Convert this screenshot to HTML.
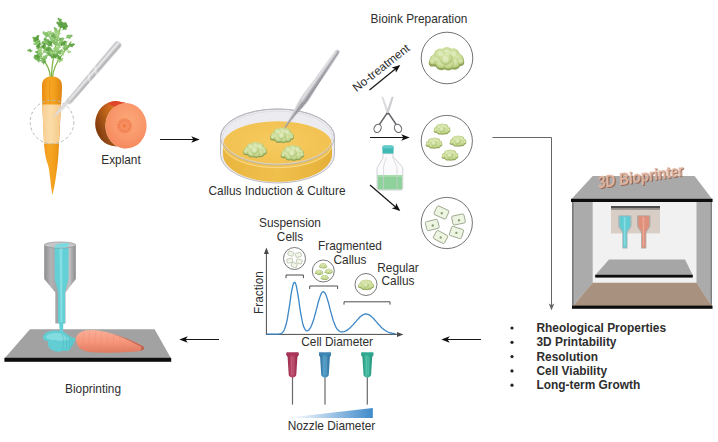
<!DOCTYPE html>
<html>
<head>
<meta charset="utf-8">
<title>Graphical abstract</title>
<style>
html,body{margin:0;padding:0;background:#ffffff;}
body{width:718px;height:442px;overflow:hidden;font-family:"Liberation Sans",sans-serif;}
svg{display:block;filter:blur(0.38px);}
text{font-family:"Liberation Sans",sans-serif;fill:#2e2e2e;}
</style>
</head>
<body>
<svg width="718" height="442" viewBox="0 0 718 442">
<defs>
  <marker id="ah" viewBox="0 0 10 10" refX="8" refY="5" markerWidth="7" markerHeight="7" orient="auto-start-reverse">
    <path d="M0,1 L10,5 L0,9 L2.5,5 Z" fill="#111"/>
  </marker>
  <marker id="ahg" viewBox="0 0 10 10" refX="8" refY="5" markerWidth="7" markerHeight="7" orient="auto-start-reverse">
    <path d="M0,1 L10,5 L0,9 L2.5,5 Z" fill="#666"/>
  </marker>
  <filter id="soft" x="-10%" y="-10%" width="120%" height="120%"><feGaussianBlur stdDeviation="0.45"/></filter>
  <filter id="soft2" x="-10%" y="-10%" width="120%" height="120%"><feGaussianBlur stdDeviation="0.8"/></filter>
  <linearGradient id="gCarrot" x1="0" x2="1" y1="0" y2="0">
    <stop offset="0" stop-color="#e88a12"/><stop offset="0.3" stop-color="#f6a524"/><stop offset="0.6" stop-color="#f3a11e"/><stop offset="1" stop-color="#dd8410"/>
  </linearGradient>
  <linearGradient id="gPale" x1="0" x2="1" y1="0" y2="0">
    <stop offset="0" stop-color="#f7cf94"/><stop offset="0.45" stop-color="#fbdca8"/><stop offset="1" stop-color="#f5c888"/>
  </linearGradient>
  <linearGradient id="gSteel" x1="0" x2="1" y1="0" y2="0">
    <stop offset="0" stop-color="#b0b0b2"/><stop offset="0.4" stop-color="#dcdcde"/><stop offset="1" stop-color="#a2a2a4"/>
  </linearGradient>
  <linearGradient id="gSide" x1="0" x2="0" y1="0" y2="1">
    <stop offset="0" stop-color="#d65a1c"/><stop offset="0.25" stop-color="#c46616"/><stop offset="0.55" stop-color="#9a4a10"/><stop offset="1" stop-color="#6e2a0a"/>
  </linearGradient>
  <radialGradient id="gFace" cx="0.55" cy="0.4" r="0.65">
    <stop offset="0" stop-color="#fba878"/><stop offset="0.6" stop-color="#f9976a"/><stop offset="1" stop-color="#f4875a"/>
  </radialGradient>
  <linearGradient id="gMedSide" x1="0" x2="1" y1="0" y2="0">
    <stop offset="0" stop-color="#e9b63e"/><stop offset="0.5" stop-color="#f0c04c"/><stop offset="1" stop-color="#e5b038"/>
  </linearGradient>
  <radialGradient id="gMedTop" cx="0.5" cy="0.45" r="0.6">
    <stop offset="0" stop-color="#f6cb60"/><stop offset="1" stop-color="#f1c04e"/>
  </radialGradient>
  <linearGradient id="gForceps" x1="0" x2="1" y1="0" y2="0">
    <stop offset="0" stop-color="#bcbcc2"/><stop offset="0.35" stop-color="#d6d6da"/><stop offset="0.6" stop-color="#a6a6ac"/><stop offset="1" stop-color="#84848c"/>
  </linearGradient>
  <radialGradient id="gCallus" cx="0.5" cy="0.4" r="0.6">
    <stop offset="0" stop-color="#e6f0c8"/><stop offset="0.6" stop-color="#cbdea4"/><stop offset="1" stop-color="#a6c078"/>
  </radialGradient>
  <radialGradient id="gLump" cx="0.45" cy="0.4" r="0.62">
    <stop offset="0" stop-color="#dfeab8"/><stop offset="0.65" stop-color="#c6d992"/><stop offset="1" stop-color="#a9c070"/>
  </radialGradient>
  <symbol id="callus" viewBox="-12 -8 24 16" overflow="visible">
    <g fill="#8fa257"><circle cx="-7.2" cy="1.7" r="4.0"/><circle cx="-4.2" cy="-1.5" r="4.2"/><circle cx="0.2" cy="-2.5" r="4.3"/><circle cx="4.6" cy="-1.7" r="4.2"/><circle cx="7.6" cy="1.3" r="3.9"/><circle cx="5.4" cy="3.8" r="4.0"/><circle cx="1.2" cy="4.3" r="4.1"/><circle cx="-3.4" cy="4.1" r="4.0"/><circle cx="-0.4" cy="1.1" r="4.8"/><circle cx="-9.2" cy="3.1" r="2.6"/><circle cx="9.4" cy="2.9" r="2.4"/></g>
    <g><circle cx="-7.2" cy="0.8" r="3.6" fill="url(#gLump)"/><circle cx="-4.2" cy="-2.4" r="3.9" fill="url(#gLump)"/><circle cx="0.2" cy="-3.4" r="4.0" fill="url(#gLump)"/><circle cx="4.6" cy="-2.6" r="3.9" fill="url(#gLump)"/><circle cx="7.6" cy="0.4" r="3.5" fill="url(#gLump)"/><circle cx="5.4" cy="2.9" r="3.6" fill="url(#gLump)"/><circle cx="1.2" cy="3.4" r="3.8" fill="url(#gLump)"/><circle cx="-3.4" cy="3.2" r="3.7" fill="url(#gLump)"/><circle cx="-0.4" cy="0.2" r="4.4" fill="url(#gLump)"/><circle cx="-9.2" cy="2.2" r="2.2" fill="url(#gLump)"/><circle cx="9.4" cy="2.0" r="2.0" fill="url(#gLump)"/></g>
    <g fill="#eef5d4" opacity="0.45"><circle cx="-3.6" cy="-2.8" r="1.7"/><circle cx="1.0" cy="-3.6" r="1.8"/><circle cx="5.0" cy="-2.4" r="1.5"/><circle cx="-0.6" cy="1.0" r="1.9"/><circle cx="-6.8" cy="0.6" r="1.3"/></g>
  </symbol>
  <linearGradient id="gWedge" x1="0" x2="1" y1="0" y2="0">
    <stop offset="0" stop-color="#ffffff"/><stop offset="0.25" stop-color="#d9e8f5"/><stop offset="1" stop-color="#3f8acb"/>
  </linearGradient>
  <linearGradient id="gNozzle" x1="0" x2="1" y1="0" y2="0">
    <stop offset="0" stop-color="#8c8c8e"/><stop offset="0.2" stop-color="#b2b2b4"/><stop offset="0.45" stop-color="#a2a2a4"/><stop offset="0.8" stop-color="#c2c2c4"/><stop offset="1" stop-color="#8a8a8c"/>
  </linearGradient>
  <linearGradient id="gPCarrot" x1="0" x2="0" y1="0" y2="1">
    <stop offset="0" stop-color="#fbb09a"/><stop offset="0.55" stop-color="#f59478"/><stop offset="1" stop-color="#dd7a60"/>
  </linearGradient>
  <linearGradient id="gHubR" x1="0" x2="1" y1="0" y2="0"><stop offset="0" stop-color="#8c2342"/><stop offset="0.45" stop-color="#c04a6a"/><stop offset="1" stop-color="#8c2342"/></linearGradient>
  <linearGradient id="gHubB" x1="0" x2="1" y1="0" y2="0"><stop offset="0" stop-color="#2a6a96"/><stop offset="0.45" stop-color="#4f9cc8"/><stop offset="1" stop-color="#2a6a96"/></linearGradient>
  <linearGradient id="gHubG" x1="0" x2="1" y1="0" y2="0"><stop offset="0" stop-color="#1f8a74"/><stop offset="0.45" stop-color="#45bfa4"/><stop offset="1" stop-color="#1f8a74"/></linearGradient>
  <linearGradient id="gSideH" gradientUnits="userSpaceOnUse" x1="95" x2="112" y1="0" y2="0">
    <stop offset="0" stop-color="#5a2006" stop-opacity="0.45"/><stop offset="1" stop-color="#e08a30" stop-opacity="0.35"/>
  </linearGradient>
  <!-- SECTION: gradients -->
</defs>
<rect x="0" y="0" width="718" height="442" fill="#ffffff"/>

<!-- SECTION: arrows -->
<g stroke="#161616" stroke-width="1.2" fill="none">
  <line x1="160" y1="139.5" x2="198" y2="139.5" marker-end="url(#ah)"/>
  <line x1="369.5" y1="90" x2="399" y2="66" marker-end="url(#ah)"/>
  <line x1="370" y1="137.5" x2="408" y2="137.5" marker-end="url(#ah)"/>
  <line x1="370" y1="185" x2="399" y2="210" marker-end="url(#ah)"/>
  <line x1="481" y1="339.5" x2="443" y2="339.5" marker-end="url(#ah)"/>
  <line x1="219" y1="339.5" x2="181" y2="339.5" marker-end="url(#ah)"/>
</g>
<path d="M492.5,137.5 H551.5 V309" stroke="#666" stroke-width="1" fill="none" marker-end="url(#ahg)"/>

<!-- SECTION: labels -->
<g font-size="11.85">
  <text x="121" y="164" text-anchor="middle">Explant</text>
  <text x="277" y="195" text-anchor="middle">Callus Induction &amp; Culture</text>
  <text x="419" y="23" text-anchor="middle">Bioink Preparation</text>
  <text transform="translate(356.6,92.2) rotate(-38.2)" x="0" y="0" font-size="11.8">No-treatment</text>
  <text x="93" y="393" text-anchor="middle">Bioprinting</text>
  <text x="290" y="227" text-anchor="middle">Suspension</text>
  <text x="290" y="240.5" text-anchor="middle">Cells</text>
  <text x="350" y="250" text-anchor="middle">Fragmented</text>
  <text x="350" y="263.5" text-anchor="middle">Callus</text>
  <text x="398" y="272" text-anchor="middle">Regular</text>
  <text x="398" y="285" text-anchor="middle">Callus</text>
  <text x="337.2" y="346" text-anchor="middle">Cell Diameter</text>
  <text x="331.5" y="429.5" text-anchor="middle">Nozzle Diameter</text>
  <text transform="translate(262.5,292.5) rotate(-90)" x="0" y="0" text-anchor="middle">Fraction</text>
</g>
<g font-size="11.9" font-weight="bold">
  <text x="536.5" y="332">Rheological Properties</text>
  <text x="536.5" y="346.3">3D Printability</text>
  <text x="536.5" y="360.6">Resolution</text>
  <text x="536.5" y="374.9">Cell Viability</text>
  <text x="536.5" y="389.2">Long-term Growth</text>
</g>
<g fill="#222">
  <circle cx="512" cy="328" r="1.6"/><circle cx="512" cy="342.3" r="1.6"/><circle cx="512" cy="356.6" r="1.6"/><circle cx="512" cy="370.9" r="1.6"/><circle cx="512" cy="385.2" r="1.6"/>
</g>

<!-- SECTION: carrot -->
<g filter="url(#soft)">
  <!-- leaves -->
  <g fill="none" stroke="#7cb342" stroke-width="1.2" stroke-linecap="round">
    <path d="M50.3,77 C50,70 47,64 42,58 C40,52 38,46 36,40"/>
    <path d="M51.5,77 C51.5,66 54,50 62,22"/>
    <path d="M52.6,77 C53,70 56,63 62,55 C65,50 68,46 71,42"/>
  </g>
  <g><path d="M51.0,35.1 L53.5,35.3 L55.1,34.3 L56.0,36.2 L58.2,37.7 L56.1,38.2 L55.3,39.8 L53.6,38.0 L51.1,37.0Z M50.0,54.1 L52.0,54.3 L53.3,53.4 L54.0,55.0 L55.8,56.2 L54.1,56.6 L53.4,57.8 L52.0,56.4 L50.0,55.6Z M58.4,17.4 L60.1,18.8 L61.8,18.9 L61.5,20.9 L62.3,23.1 L60.5,22.3 L59.0,23.0 L58.7,20.8 L57.4,18.8Z M72.9,36.1 L71.0,37.1 L70.2,38.6 L68.5,37.5 L66.2,37.4 L67.6,36.0 L67.5,34.5 L69.7,35.1 L72.0,34.7Z M44.0,47.3 L46.8,47.6 L48.6,46.4 L49.7,48.6 L52.1,50.3 L49.8,50.8 L48.8,52.6 L46.9,50.6 L44.1,49.5Z M68.1,26.2 L66.6,28.1 L66.6,29.9 L64.5,29.6 L62.2,30.6 L62.9,28.6 L62.1,27.1 L64.4,26.7 L66.5,25.2Z M46.7,47.3 L49.1,47.8 L50.8,47.0 L51.5,49.1 L53.4,50.8 L51.3,51.0 L50.2,52.4 L48.8,50.4 L46.5,49.2Z M49.3,32.9 L51.7,32.9 L53.2,31.9 L54.2,33.7 L56.3,35.1 L54.3,35.6 L53.6,37.2 L51.9,35.5 L49.5,34.7Z M63.6,38.6 L62.0,39.6 L61.5,41.1 L59.9,40.3 L57.9,40.4 L58.9,39.1 L58.7,37.7 L60.6,38.0 L62.6,37.4Z M46.5,51.9 L48.5,52.3 L49.9,51.6 L50.5,53.3 L52.2,54.7 L50.4,54.9 L49.5,56.1 L48.3,54.5 L46.3,53.5Z M48.0,51.0 L50.8,51.1 L52.7,49.8 L53.9,52.1 L56.5,53.8 L54.1,54.4 L53.1,56.3 L51.0,54.2 L48.1,53.2Z M44.9,37.3 L47.2,39.3 L49.5,39.4 L49.1,42.1 L50.1,45.1 L47.7,44.1 L45.7,45.0 L45.3,42.0 L43.5,39.2Z M47.1,39.3 L49.4,41.2 L51.8,41.2 L51.4,43.9 L52.6,46.9 L50.1,46.0 L48.1,47.0 L47.7,43.9 L45.8,41.3Z M48.2,53.1 L50.8,53.7 L52.7,52.9 L53.4,55.2 L55.5,57.2 L53.2,57.3 L52.0,58.9 L50.4,56.6 L47.9,55.2Z M33.5,56.5 L36.1,56.4 L37.6,55.2 L38.9,57.1 L41.4,58.4 L39.2,59.2 L38.5,60.9 L36.5,59.2 L33.8,58.6Z M35.3,51.1 L37.9,51.1 L39.5,49.9 L40.7,51.9 L43.1,53.3 L40.9,54.0 L40.2,55.7 L38.2,53.9 L35.5,53.1Z M27.2,49.8 L29.0,49.6 L30.1,48.6 L31.1,49.9 L33.0,50.8 L31.4,51.4 L31.0,52.7 L29.5,51.6 L27.5,51.2Z M45.4,58.4 L45.3,60.6 L46.3,61.9 L44.6,62.9 L43.4,64.9 L42.8,63.0 L41.4,62.3 L42.9,60.8 L43.7,58.5Z M40.4,40.6 L40.0,42.8 L40.7,44.3 L38.9,45.0 L37.3,46.8 L37.1,44.8 L35.8,43.9 L37.6,42.6 L38.7,40.4Z M57.1,57.2 L58.7,57.7 L60.0,57.3 L60.3,58.8 L61.6,60.1 L60.1,60.1 L59.2,61.1 L58.4,59.5 L56.8,58.5Z" fill="#62a646" opacity="0.92"/><path d="M45.9,40.8 L47.5,41.8 L49.0,41.6 L49.0,43.4 L50.0,45.2 L48.3,44.8 L47.2,45.6 L46.6,43.7 L45.2,42.2Z M44.7,47.5 L47.4,48.3 L49.5,47.5 L50.2,49.9 L52.3,52.1 L49.8,52.2 L48.5,53.7 L47.0,51.3 L44.4,49.7Z M44.3,33.1 L46.4,33.3 L47.8,32.4 L48.6,34.1 L50.5,35.3 L48.7,35.8 L47.9,37.1 L46.5,35.6 L44.3,34.8Z M54.6,26.7 L56.0,28.2 L57.5,28.4 L57.1,30.1 L57.6,32.2 L56.0,31.4 L54.7,31.9 L54.6,29.8 L53.6,27.9Z M47.0,48.3 L49.7,49.3 L51.9,48.6 L52.4,51.2 L54.4,53.5 L51.8,53.4 L50.4,54.9 L49.0,52.4 L46.5,50.5Z M50.4,40.3 L53.0,40.5 L54.7,39.5 L55.7,41.6 L57.9,43.3 L55.7,43.7 L54.7,45.4 L53.0,43.4 L50.4,42.3Z M63.4,50.8 L61.2,52.6 L60.7,54.7 L58.4,53.9 L55.4,54.3 L56.8,52.3 L56.3,50.3 L59.1,50.5 L61.8,49.3Z M58.1,47.6 L56.9,49.0 L56.7,50.5 L55.1,50.1 L53.1,50.8 L53.8,49.3 L53.3,48.0 L55.2,47.8 L56.9,46.8Z M32.7,36.4 L35.3,37.1 L37.2,36.2 L37.9,38.6 L39.9,40.6 L37.6,40.7 L36.3,42.2 L34.8,40.0 L32.4,38.5Z M33.1,39.8 L35.6,39.9 L37.2,38.7 L38.3,40.7 L40.6,42.1 L38.4,42.7 L37.7,44.3 L35.8,42.6 L33.3,41.7Z M46.9,57.1 L45.5,59.2 L45.5,61.1 L43.3,60.9 L40.9,62.0 L41.6,59.9 L40.7,58.4 L43.1,57.9 L45.2,56.2Z M34.9,57.6 L37.4,58.1 L39.1,57.2 L39.9,59.3 L41.9,61.0 L39.8,61.3 L38.7,62.8 L37.2,60.8 L34.8,59.5Z M48.8,47.3 L47.7,48.8 L47.7,50.3 L46.0,50.1 L44.1,51.0 L44.7,49.4 L44.0,48.2 L45.9,47.8 L47.5,46.6Z M46.3,44.8 L44.9,46.4 L44.9,48.1 L43.0,47.8 L40.8,48.5 L41.5,46.8 L40.9,45.4 L43.0,45.1 L44.9,43.8Z M46.2,41.2 L45.0,42.7 L44.9,44.2 L43.2,44.0 L41.2,44.7 L41.8,43.1 L41.2,41.9 L43.2,41.6 L44.9,40.4Z M62.8,46.9 L64.5,47.7 L65.8,47.4 L66.0,49.0 L67.2,50.5 L65.6,50.3 L64.6,51.2 L63.9,49.5 L62.4,48.3Z M70.0,46.9 L68.2,48.3 L67.8,50.1 L65.8,49.4 L63.3,49.8 L64.5,48.1 L64.0,46.4 L66.4,46.6 L68.7,45.6Z" fill="#74b356" opacity="0.92"/><path d="M67.8,41.8 L66.7,43.6 L66.8,45.2 L64.9,45.2 L62.9,46.3 L63.4,44.5 L62.5,43.2 L64.6,42.6 L66.3,41.1Z M72.2,35.9 L70.3,37.3 L69.9,39.1 L67.9,38.3 L65.4,38.6 L66.6,36.9 L66.2,35.3 L68.6,35.5 L70.9,34.6Z M59.7,50.1 L57.8,51.4 L57.2,53.1 L55.3,52.2 L52.9,52.4 L54.1,50.8 L53.8,49.2 L56.1,49.5 L58.5,48.7Z M49.9,35.7 L52.0,37.4 L54.1,37.4 L53.8,39.8 L54.9,42.4 L52.7,41.6 L50.9,42.5 L50.5,39.8 L48.8,37.5Z M64.7,38.3 L63.4,40.6 L63.7,42.7 L61.3,42.8 L58.9,44.3 L59.3,41.9 L58.2,40.4 L60.7,39.5 L62.8,37.5Z M63.6,41.7 L62.5,43.8 L62.8,45.6 L60.6,45.8 L58.5,47.2 L58.8,45.1 L57.7,43.7 L60.0,42.9 L61.8,41.0Z M68.8,46.5 L66.9,47.2 L66.0,48.6 L64.6,47.4 L62.5,47.0 L63.9,45.9 L64.0,44.5 L65.9,45.3 L68.1,45.1Z M62.2,44.3 L59.7,45.2 L58.6,46.9 L56.7,45.4 L53.9,44.9 L55.8,43.5 L55.9,41.6 L58.4,42.6 L61.3,42.4Z M42.4,40.8 L44.4,40.8 L45.7,39.9 L46.6,41.5 L48.5,42.6 L46.7,43.1 L46.1,44.5 L44.6,43.0 L42.5,42.4Z M54.0,38.6 L56.0,38.8 L57.3,38.0 L58.0,39.6 L59.8,40.9 L58.0,41.2 L57.3,42.5 L56.0,41.0 L54.0,40.2Z M43.1,31.0 L45.8,32.3 L48.1,31.8 L48.4,34.5 L50.2,37.2 L47.6,36.8 L45.9,38.2 L44.7,35.4 L42.3,33.2Z M32.8,38.8 L34.6,38.2 L35.5,37.0 L36.8,38.1 L38.8,38.6 L37.4,39.5 L37.3,40.9 L35.5,40.1 L33.4,40.2Z M33.2,43.2 L35.6,42.3 L36.6,40.7 L38.3,42.1 L41.0,42.6 L39.2,43.9 L39.1,45.7 L36.8,44.8 L34.1,44.9Z M47.9,49.7 L46.6,51.3 L46.6,53.0 L44.7,52.7 L42.7,53.6 L43.3,51.8 L42.6,50.5 L44.7,50.1 L46.5,48.8Z M48.6,55.0 L47.1,56.9 L47.1,58.7 L45.0,58.4 L42.6,59.3 L43.4,57.4 L42.6,55.9 L44.9,55.5 L47.0,54.0Z M34.0,56.1 L36.2,55.3 L37.1,53.8 L38.7,55.1 L41.1,55.5 L39.5,56.8 L39.4,58.4 L37.3,57.5 L34.8,57.7Z M35.3,55.6 L37.7,54.5 L38.6,52.7 L40.5,54.0 L43.3,54.3 L41.6,55.8 L41.6,57.7 L39.1,56.9 L36.3,57.3Z M49.5,46.4 L48.7,48.5 L49.2,50.2 L47.2,50.5 L45.4,52.0 L45.5,50.0 L44.4,48.9 L46.4,47.9 L47.9,46.0Z M58.4,54.5 L59.5,55.6 L60.6,55.8 L60.2,57.1 L60.6,58.7 L59.4,58.1 L58.4,58.4 L58.4,56.9 L57.6,55.4Z" fill="#88c36a" opacity="0.92"/><path d="M54.4,29.7 L56.9,30.3 L58.7,29.6 L59.3,31.8 L61.3,33.7 L59.0,33.8 L57.9,35.2 L56.5,33.1 L54.1,31.6Z M61.2,47.2 L58.9,49.1 L58.4,51.3 L56.0,50.4 L52.9,50.9 L54.3,48.8 L53.7,46.7 L56.7,46.9 L59.5,45.6Z M55.0,31.7 L57.2,33.6 L59.6,33.7 L59.1,36.3 L60.2,39.3 L57.8,38.3 L55.9,39.2 L55.5,36.3 L53.7,33.6Z M50.1,50.5 L52.7,51.8 L54.9,51.3 L55.1,53.9 L56.8,56.6 L54.3,56.1 L52.6,57.5 L51.6,54.7 L49.3,52.6Z M47.6,30.8 L49.8,31.3 L51.4,30.6 L52.0,32.5 L53.8,34.2 L51.8,34.4 L50.8,35.7 L49.5,33.8 L47.4,32.6Z M59.3,56.0 L57.8,57.2 L57.4,58.8 L55.7,58.2 L53.5,58.5 L54.5,57.0 L54.1,55.6 L56.2,55.7 L58.2,54.9Z M42.0,49.9 L41.8,51.6 L42.6,52.7 L41.2,53.4 L40.2,54.9 L39.8,53.5 L38.7,52.9 L40.0,51.7 L40.6,50.0Z M42.7,46.9 L41.8,49.3 L42.4,51.3 L40.1,51.8 L37.9,53.6 L38.0,51.3 L36.7,49.9 L39.0,48.7 L40.7,46.4Z M71.4,52.6 L69.8,52.7 L68.8,53.6 L68.0,52.4 L66.4,51.6 L67.8,51.1 L68.2,49.9 L69.5,51.0 L71.2,51.4Z M63.1,61.0 L60.9,61.6 L59.8,63.0 L58.3,61.6 L56.0,60.9 L57.6,59.9 L57.9,58.2 L60.0,59.3 L62.4,59.3Z M63.6,58.9 L62.1,59.5 L61.4,60.6 L60.2,59.7 L58.5,59.4 L59.6,58.5 L59.7,57.3 L61.2,57.9 L63.0,57.8Z M62.9,49.0 L63.7,51.1 L65.2,52.0 L64.0,53.6 L63.6,55.9 L62.4,54.4 L60.8,54.3 L61.6,52.2 L61.4,49.8Z" fill="#9ed07e" opacity="0.92"/><path d="M66.4,41.3 L65.1,43.4 L65.2,45.3 L63.0,45.2 L60.7,46.4 L61.3,44.3 L60.3,42.8 L62.7,42.2 L64.7,40.5Z M58.8,55.5 L56.5,56.7 L55.7,58.5 L53.8,57.3 L51.1,57.3 L52.6,55.7 L52.4,53.8 L54.9,54.4 L57.6,53.9Z M57.1,21.2 L59.2,22.6 L61.2,22.4 L61.2,24.7 L62.4,27.1 L60.2,26.5 L58.7,27.6 L58.0,25.1 L56.2,23.0Z M67.1,24.1 L64.5,25.2 L63.5,27.2 L61.4,25.7 L58.4,25.5 L60.2,23.8 L60.2,21.8 L62.9,22.6 L65.9,22.2Z M48.9,40.4 L50.5,41.7 L52.1,41.7 L51.8,43.6 L52.6,45.6 L50.9,44.9 L49.6,45.6 L49.3,43.5 L48.0,41.7Z M65.6,23.9 L64.3,25.7 L64.3,27.5 L62.2,27.2 L60.0,28.2 L60.6,26.3 L59.8,24.8 L62.1,24.4 L64.1,22.9Z M68.0,26.0 L65.6,27.3 L64.6,29.2 L62.6,27.9 L59.6,27.8 L61.3,26.1 L61.2,24.1 L63.9,24.8 L66.8,24.3Z M50.1,47.6 L49.1,49.2 L49.2,50.6 L47.6,50.6 L45.8,51.6 L46.2,50.0 L45.4,48.9 L47.2,48.3 L48.7,47.0Z M39.5,35.4 L38.5,37.9 L39.1,39.8 L36.8,40.2 L34.6,42.1 L34.7,39.7 L33.4,38.4 L35.8,37.2 L37.5,34.9Z M45.3,43.1 L45.2,45.4 L46.2,46.8 L44.4,47.8 L43.1,49.8 L42.6,47.9 L41.1,47.1 L42.8,45.5 L43.6,43.2Z M34.3,54.8 L36.5,55.0 L38.0,54.0 L38.9,55.8 L40.8,57.2 L38.9,57.6 L38.2,59.0 L36.6,57.4 L34.4,56.5Z M41.1,43.5 L40.2,45.7 L40.7,47.5 L38.6,47.9 L36.6,49.5 L36.7,47.4 L35.5,46.1 L37.7,45.1 L39.3,43.0Z M75.1,44.7 L73.0,45.9 L72.3,47.5 L70.5,46.5 L68.0,46.4 L69.4,45.0 L69.3,43.3 L71.6,43.8 L74.0,43.3Z M58.1,55.4 L59.6,56.6 L61.0,56.6 L60.8,58.2 L61.5,60.0 L60.0,59.4 L58.9,60.0 L58.5,58.2 L57.4,56.6Z" fill="#579c3c" opacity="0.92"/></g>
  <!-- body -->
  <path d="M42,86 C42,79 46,76.5 51.5,76.5 C57.5,76.5 62,79 62,86 C62,93 61.5,99 61,105 L59,143.5 C58.6,156 57.6,166 56,176 C55,184 53.6,190 52.4,195 C51,188 50.4,180 49.6,174 C49,169 48.4,166 47.2,162.6 C45.6,158 44.5,150 44,143.5 L42.3,105 C42,99 42,93 42,86 Z" fill="url(#gCarrot)"/>
  <path d="M42.3,104.5 L61,104.5 L58.8,143.8 L44,143.8 Z" fill="url(#gPale)"/>
  <path d="M50,80 C49,90 49.5,98 50,104" stroke="#e08a12" stroke-width="0.8" fill="none" opacity="0.7"/>
</g>
<circle cx="52" cy="122" r="21.8" fill="none" stroke="#b9b9b9" stroke-width="1" stroke-dasharray="3 2.4"/>
<!-- SECTION: scalpel -->
<g filter="url(#soft)" transform="translate(119.4,42.8) rotate(40.6)">
  <path d="M-3.4,2 Q-3.4,-0.6 0,-0.6 Q3.4,-0.6 3.4,2 L3.2,40 L2.7,76 L2.2,78.6 L0.6,80 L0.2,90 L-1.6,100.4 L-2.6,90 L-2.7,76 L-3.2,40 Z" fill="url(#gSteel)"/>
  <path d="M-2.0,1 L0.2,1 L-0.2,76 L-1.6,76 Z" fill="#f2f2f4" opacity="0.65"/>
  <g stroke="#f6f6f8" stroke-width="1.6" opacity="0.7">
    <line x1="-3" y1="34" x2="3" y2="39"/><line x1="-3" y1="44" x2="2.8" y2="49"/>
  </g>
  <path d="M-2.6,79 L0.5,80.4 L0.2,90 L-1.6,100.4 L-2.6,90 Z" fill="#dededf"/>
</g>
<!-- SECTION: explant -->
<g filter="url(#soft)">
  <path d="M126,103 A20.6,22.8 0 0 0 126,148.6 L116,146.2 A20.6,22.8 0 0 1 95.2,123.6 A20.6,22.8 0 0 1 116,101 Z" fill="url(#gSide)"/>
  <path d="M126,103 A20.6,22.8 0 0 0 126,148.6 L116,146.2 A20.6,22.8 0 0 1 95.2,123.6 A20.6,22.8 0 0 1 116,101 Z" fill="url(#gSideH)"/>
  <path d="M116,101 L126,103 C122,103.6 118,105 115,107 C112,105.4 110,104.4 108,103.6 C110.4,102 113,101 116,101 Z" fill="#de452a"/>
  <ellipse cx="126" cy="125.8" rx="20.6" ry="22.8" fill="url(#gFace)"/>
  <circle cx="124.5" cy="125.8" r="7.6" fill="#f68e60"/>
  <circle cx="124.5" cy="125.8" r="5.6" fill="none" stroke="#ee7c4c" stroke-width="1.6" stroke-dasharray="1.6 1.3"/>
  <circle cx="124.5" cy="125.8" r="1.6" fill="#ef7a3e"/>
</g>
<!-- SECTION: petri -->
<g filter="url(#soft)">
  <!-- glass outer body -->
  <path d="M220.5,137 A57,28 0 0 1 334.5,137 L334.5,154.5 A57,28.5 0 0 1 220.5,154.5 Z" fill="#ececf0" stroke="#b4b4bc" stroke-width="0.9"/>
  <!-- medium side -->
  <path d="M223,145 L332,145 L332,154.5 A54.5,27.5 0 0 1 223,154.5 Z" fill="url(#gMedSide)"/>
  <!-- medium top -->
  <ellipse cx="277.5" cy="144.5" rx="54.5" ry="23.2" fill="url(#gMedTop)"/>
  <!-- front rim highlight of medium -->
  <path d="M223,144.5 A54.5,23.2 0 0 0 332,144.5" fill="none" stroke="#f8dc92" stroke-width="1" opacity="0.9"/>
  <!-- glass rim (top edge) -->
  <ellipse cx="277.5" cy="137" rx="57" ry="28" fill="none" stroke="#b4b4bc" stroke-width="0.9"/>
  <ellipse cx="277.5" cy="137.6" rx="55" ry="26.4" fill="none" stroke="#dadade" stroke-width="0.8" opacity="0.9"/>
  <!-- callus -->
  <use href="#callus" x="243" y="141.5" width="24" height="16"/>
  <use href="#callus" x="280.5" y="144.5" width="24" height="16"/>
  <use href="#callus" x="270" y="126.8" width="24" height="16"/>
</g>
<!-- forceps -->
<g filter="url(#soft)" transform="translate(337.8,51.0) rotate(34.7)">
  <path d="M-2.2,1.5 Q-2.2,-0.9 0,-0.9 Q2.2,-0.9 2.2,1.5 L3.0,36 L3.7,58 L3.2,66 L1.7,77 L0.5,93.5 L-0.5,93.5 L-1.7,77 L-3.2,66 L-3.7,58 L-3.0,36 Z" fill="url(#gForceps)"/>
  <path d="M0.2,62 L0.2,93" stroke="#707078" stroke-width="0.55"/>
  <path d="M-1.5,2 L-0.4,2 L-1.2,60 L-2.8,60 Z" fill="#f0f0f3" opacity="0.6"/>
</g>
<!-- SECTION: bioink -->
<g fill="#fff" stroke="#505050" stroke-width="0.8">
  <circle cx="447" cy="58" r="25.8"/>
  <circle cx="446.8" cy="141" r="25.6"/>
  <circle cx="446.8" cy="223" r="25.6"/>
</g>
<g filter="url(#soft)">
  <!-- big callus -->
  <use href="#callus" x="428.5" y="45.5" width="36" height="25" />
  <!-- four fragments -->
  <use href="#callus" x="433.5" y="123" width="17" height="11.5"/>
  <use href="#callus" x="425.5" y="137" width="17" height="11.5"/>
  <use href="#callus" x="449.5" y="135" width="17" height="11.5"/>
  <use href="#callus" x="441.5" y="149" width="17" height="11.5"/>
  <!-- cells -->
  <g stroke="#6f7f5c" stroke-width="0.6" fill="#eef4e2">
    <g transform="translate(441.5,212.5) rotate(25)"><rect x="-6.5" y="-4.8" width="13" height="9.6" rx="1.5"/><circle cx="0.5" cy="0.5" r="1.2" fill="#8aa074" stroke="none"/></g>
    <g transform="translate(458.5,219.5) rotate(-12)"><rect x="-6.3" y="-4.6" width="12.6" height="9.2" rx="1.5"/><circle cx="0.3" cy="0.8" r="1.2" fill="#8aa074" stroke="none"/></g>
    <g transform="translate(432.3,225) rotate(-14)"><rect x="-6.3" y="-4.6" width="12.6" height="9.2" rx="1.5"/><circle cx="0.3" cy="0.6" r="1.2" fill="#8aa074" stroke="none"/></g>
    <g transform="translate(456.5,232.5) rotate(18)"><rect x="-6.3" y="-4.8" width="12.6" height="9.6" rx="1.5"/><circle cx="0" cy="0.4" r="1.2" fill="#8aa074" stroke="none"/></g>
    <g transform="translate(440.5,237) rotate(28)"><rect x="-6.3" y="-4.6" width="12.6" height="9.2" rx="1.5"/><circle cx="0.4" cy="0.3" r="1.2" fill="#8aa074" stroke="none"/></g>
  </g>
</g>
<!-- scissors -->
<g filter="url(#soft)">
  <path d="M381.2,96.6 L383.4,97 L389.4,113.6 L387.4,115.2 Z" fill="#dcdce0"/>
  <path d="M393.8,96.6 L391.6,97 L386.0,113.6 L388.0,115.2 Z" fill="#cdcdd2"/>
  <path d="M388.4,113 L396.2,124.5" stroke="#626266" stroke-width="1.35" fill="none"/>
  <path d="M387.2,113 L379.4,124.5" stroke="#626266" stroke-width="1.35" fill="none"/>
  <ellipse cx="377.6" cy="128.4" rx="3.4" ry="4.3" transform="rotate(28 377.6 128.4)" fill="none" stroke="#6b6b70" stroke-width="1.1"/>
  <ellipse cx="398" cy="128.4" rx="3.4" ry="4.3" transform="rotate(-28 398 128.4)" fill="none" stroke="#6b6b70" stroke-width="1.1"/>
  <circle cx="388" cy="113.8" r="0.8" fill="#555"/>
</g>
<!-- bottle -->
<g filter="url(#soft)">
  <path d="M383,153.6 L393,153.6 L393,156.5 L401.6,166 Q402.8,167.4 402.8,169 L402.8,188 Q402.8,190 400.8,190 L379,190 Q377,190 377,188 L377,169 Q377,167.4 378.2,166 L383,158 Z" fill="#fbfbfd" stroke="#c6c6cc" stroke-width="0.8"/>
  <path d="M377.6,175 L402.2,175 L402.2,188 Q402.2,189.4 400.8,189.4 L379,189.4 Q377.6,189.4 377.6,188 Z" fill="#8fd19a"/>
  <path d="M377.6,175 L402.2,175 L402.2,177 L377.6,177 Z" fill="#a6dcae"/>
  <path d="M386.5,157 L383.6,166 L383.6,189" stroke="#d0d0d6" stroke-width="0.7" fill="none"/>
  <path d="M392.6,157 L397,167 L397,189" stroke="#d0d0d6" stroke-width="0.7" fill="none"/>
  <path d="M382.4,147.2 Q382.4,145.6 384,145.6 L392,145.6 Q393.6,145.6 393.6,147.2 L393.6,152.4 Q393.6,153.6 392.4,153.6 L383.6,153.6 Q382.4,153.6 382.4,152.4 Z" fill="#3fb8b4"/>
  <path d="M382.4,147.2 Q382.4,145.6 384,145.6 L392,145.6 Q393.6,145.6 393.6,147.2 L393.6,148.4 L382.4,148.4 Z" fill="#62ccc8"/>
</g>
<!-- SECTION: printer -->
<g filter="url(#soft)">
  <!-- back wall / interior -->
  <rect x="592.5" y="201" width="104.5" height="82" fill="#f1f1f1"/>
  <!-- left wall -->
  <path d="M572,201 L592.7,201 L592.7,283 L573,306 L572,306 Z" fill="#ababab"/>
  <path d="M572,201 L573.6,201 L573.6,305 L572,306 Z" fill="#7a7a7a"/>
  <!-- right wall -->
  <path d="M696.5,201 L712,201 L712,306 L696.5,283 Z" fill="#ababab"/>
  <path d="M710.6,201 L712,201 L712,306 L710.6,304 Z" fill="#808080"/>
  <!-- floor -->
  <path d="M592.7,282.8 L696.5,282.8 L712,306 L573,306 Z" fill="#a8917f"/>
  <rect x="572" y="305.6" width="140.5" height="3.2" fill="#0c0c0c"/>
  <!-- roof -->
  <path d="M592.7,176 L694.6,176 L712.3,199.2 L571.3,199.2 Z" fill="#a9a9a9"/>
  <rect x="571" y="198.8" width="141.6" height="3.2" fill="#0c0c0c"/>
  <!-- print head -->
  <rect x="611" y="206" width="49" height="27.4" fill="#d8cec5"/>
  <rect x="611" y="206" width="49" height="2.4" fill="#4c4c4c"/>
  <rect x="611" y="208.4" width="49" height="1.4" fill="#8f8a86"/>
  <!-- nozzles -->
  <path d="M619.4,215.2 L630.4,215.2 Q631.6,215.2 631.6,216.6 L631.6,225 C631.6,229 627.5,230 627.5,234 L627.5,248.4 L622.3,248.4 L622.3,234 C622.3,230 618.2,229 618.2,225 L618.2,216.6 Q618.2,215.2 619.4,215.2 Z" fill="#a9b6ba"/>
  <path d="M620.6,216.2 L629.2,216.2 Q630.2,216.2 630.2,217.4 L630.2,225 C630.2,228.6 626.6,229.6 626.6,233.6 L626.6,247.6 L623.2,247.6 L623.2,233.6 C623.2,229.6 619.6,228.6 619.6,225 L619.6,217.4 Q619.6,216.2 620.6,216.2 Z" fill="#62ccd3"/>
  <path d="M623.7,217 L625.5,217 L625.3,246 L624.1,246 Z" fill="#b0ecf0" opacity="0.5"/>
  <path d="M638.2,215.2 L649.2,215.2 Q650.4,215.2 650.4,216.6 L650.4,225 C650.4,229 646.3,230 646.3,234 L646.3,248.4 L641.1,248.4 L641.1,234 C641.1,230 637.0,229 637.0,225 L637.0,216.6 Q637.0,215.2 638.2,215.2 Z" fill="#b6a8a2"/>
  <path d="M639.4,216.2 L648.0,216.2 Q649.0,216.2 649.0,217.4 L649.0,225 C649.0,228.6 645.4,229.6 645.4,233.6 L645.4,247.6 L642.0,247.6 L642.0,233.6 C642.0,229.6 638.4,228.6 638.4,225 L638.4,217.4 Q638.4,216.2 639.4,216.2 Z" fill="#df8f7a"/>
  <path d="M642.5,217 L644.3,217 L644.1,246 L642.9,246 Z" fill="#f6c2b4" opacity="0.5"/>
  <!-- inner platform -->
  <path d="M609,259.6 L685,259.6 L692.7,275 L595.4,275 Z" fill="#a6a6a6"/>
  <rect x="595.2" y="274.8" width="97.6" height="2.8" fill="#0c0c0c"/>
</g>
<!-- 3D Bioprinter label -->
<g transform="translate(598.4,188.4) rotate(-8.4) skewX(-6)" font-size="16.5" font-weight="bold" filter="url(#soft)">
  <text x="1.0" y="1.4" style="fill:#8a5a44" textLength="86" lengthAdjust="spacingAndGlyphs">3D Bioprinter</text>
  <text x="0" y="0" style="fill:#e4b6a0" textLength="86" lengthAdjust="spacingAndGlyphs">3D Bioprinter</text>
</g>
<!-- SECTION: chart -->
<g fill="none" stroke="#4a4a4a" stroke-width="1">
  <path d="M266.4,334.4 L266.4,252"/>
  <path d="M266,334.4 L399,334.4"/>
</g>
<path d="M266.4,247.6 L268.9,254 L263.9,254 Z" fill="#4a4a4a"/>
<path d="M403.4,334.4 L397,331.9 L397,336.9 Z" fill="#4a4a4a"/>
<path d="M266.5,334.2 L267.2,334.2 L268.0,334.2 L268.8,334.2 L269.5,334.2 L270.2,334.2 L271.0,334.2 L271.8,334.2 L272.5,334.2 L273.2,334.2 L274.0,334.2 L274.8,334.2 L275.5,334.2 L276.2,334.2 L277.0,334.2 L277.8,334.1 L278.5,334.1 L279.2,334.0 L280.0,333.8 L280.8,333.6 L281.5,333.2 L282.2,332.7 L283.0,331.9 L283.8,330.8 L284.5,329.3 L285.2,327.3 L286.0,324.8 L286.8,321.6 L287.5,317.9 L288.2,313.5 L289.0,308.8 L289.8,303.7 L290.5,298.6 L291.2,293.7 L292.0,289.3 L292.8,285.8 L293.5,283.4 L294.2,282.3 L295.0,282.5 L295.8,284.1 L296.5,286.9 L297.2,290.7 L298.0,295.2 L298.8,300.2 L299.5,305.3 L300.2,310.3 L301.0,314.9 L301.8,319.0 L302.5,322.4 L303.2,325.3 L304.0,327.4 L304.8,329.0 L305.5,330.1 L306.2,330.7 L307.0,330.9 L307.8,330.7 L308.5,330.3 L309.2,329.5 L310.0,328.4 L310.8,327.1 L311.5,325.5 L312.2,323.7 L313.0,321.6 L313.8,319.3 L314.5,316.7 L315.2,314.0 L316.0,311.1 L316.8,308.2 L317.5,305.3 L318.2,302.5 L319.0,299.8 L319.8,297.4 L320.5,295.4 L321.2,293.7 L322.0,292.5 L322.8,291.8 L323.5,291.7 L324.2,292.1 L325.0,293.1 L325.8,294.5 L326.5,296.4 L327.2,298.6 L328.0,301.2 L328.8,303.9 L329.5,306.8 L330.2,309.7 L331.0,312.6 L331.8,315.4 L332.5,318.0 L333.2,320.4 L334.0,322.6 L334.8,324.5 L335.5,326.2 L336.2,327.6 L337.0,328.8 L337.8,329.8 L338.5,330.5 L339.2,331.1 L340.0,331.5 L340.8,331.8 L341.5,331.9 L342.2,331.9 L343.0,331.9 L343.8,331.7 L344.5,331.5 L345.2,331.2 L346.0,330.8 L346.8,330.4 L347.5,329.9 L348.2,329.3 L349.0,328.7 L349.8,328.1 L350.5,327.4 L351.2,326.7 L352.0,325.9 L352.8,325.1 L353.5,324.3 L354.2,323.4 L355.0,322.5 L355.8,321.7 L356.5,320.8 L357.2,319.9 L358.0,319.1 L358.8,318.3 L359.5,317.5 L360.2,316.8 L361.0,316.2 L361.8,315.6 L362.5,315.1 L363.2,314.7 L364.0,314.4 L364.8,314.1 L365.5,314.0 L366.2,314.0 L367.0,314.1 L367.8,314.3 L368.5,314.6 L369.2,314.9 L370.0,315.4 L370.8,316.0 L371.5,316.6 L372.2,317.3 L373.0,318.0 L373.8,318.8 L374.5,319.6 L375.2,320.5 L376.0,321.4 L376.8,322.2 L377.5,323.1 L378.2,324.0 L379.0,324.8 L379.8,325.6 L380.5,326.4 L381.2,327.2 L382.0,327.9 L382.8,328.5 L383.5,329.2 L384.2,329.7 L385.0,330.3 L385.8,330.8 L386.5,331.2 L387.2,331.6 L388.0,332.0 L388.8,332.3 L389.5,332.5 L390.2,332.8 L391.0,333.0 L391.8,333.2 L392.5,333.4 L393.2,333.5 L394.0,333.6 L394.8,333.7 L395.5,333.8" fill="none" stroke="#3b86c6" stroke-width="1.3" stroke-linejoin="round"/>
<g fill="none" stroke="#3a3a3a" stroke-width="0.9">
  <path d="M286,278.2 V275 H303.4 V278.2"/>
  <path d="M309.7,289 V286 H337.6 V289"/>
  <path d="M344,304.6 V301.8 H390 V304.6"/>
</g>
<g fill="#fff" stroke="#555" stroke-width="0.8">
  <circle cx="294.5" cy="258.5" r="11"/><circle cx="323.3" cy="271" r="11"/><circle cx="366" cy="284.5" r="11"/>
</g>
<g filter="url(#soft)">
  <g stroke="#8d9a7e" stroke-width="0.45" fill="#f1f6e8">
    <rect x="288" y="251.5" width="5.6" height="4.2" rx="0.8" transform="rotate(20 290.8 253.6)"/>
    <rect x="295.6" y="252.8" width="5.6" height="4.2" rx="0.8" transform="rotate(-15 298.4 254.9)"/>
    <rect x="287" y="258.6" width="5.6" height="4.2" rx="0.8" transform="rotate(-10 289.8 260.7)"/>
    <rect x="296.4" y="259.4" width="5.6" height="4.2" rx="0.8" transform="rotate(18 299.2 261.5)"/>
    <rect x="291.4" y="263" width="5.6" height="4.2" rx="0.8" transform="rotate(25 294.2 265.1)"/>
  </g>
  <use href="#callus" x="319.2" y="263" width="8" height="5.4"/>
  <use href="#callus" x="315" y="269.4" width="8" height="5.4"/>
  <use href="#callus" x="324.6" y="268.4" width="8" height="5.4"/>
  <use href="#callus" x="320.6" y="274.6" width="8" height="5.4"/>
  <use href="#callus" x="358" y="279" width="16" height="11"/>
</g>
<!-- SECTION: needles -->
<g filter="url(#soft)">
<g>
  <rect x="291.9" y="376" width="1.2" height="28.6" fill="#6a6a6e"/>
  <path d="M286.5,352.6 L298.5,352.6 L298.5,355.6 L297.4,356.8 L296.3,374.6 Q296.1,377.4 292.5,377.4 Q288.9,377.4 288.7,374.6 L287.6,356.8 L286.5,355.6 Z" fill="url(#gHubR)"/>
  <rect x="286.5" y="352.4" width="12" height="2.8" rx="0.8" fill="#a83458"/>
  <path d="M291.3,357 L291.5,375 M293.9,357 L293.7,375" stroke="#ffffff" stroke-width="0.5" opacity="0.25" fill="none"/>
</g><g>
  <rect x="324.4" y="376" width="1.2" height="28.6" fill="#6a6a6e"/>
  <path d="M319.0,352.6 L331.0,352.6 L331.0,355.6 L329.9,356.8 L328.8,374.6 Q328.6,377.4 325.0,377.4 Q321.4,377.4 321.2,374.6 L320.1,356.8 L319.0,355.6 Z" fill="url(#gHubB)"/>
  <rect x="319.0" y="352.4" width="12" height="2.8" rx="0.8" fill="#3c86b4"/>
  <path d="M323.8,357 L324.0,375 M326.4,357 L326.2,375" stroke="#ffffff" stroke-width="0.5" opacity="0.25" fill="none"/>
</g><g>
  <rect x="366.7" y="376" width="1.2" height="28.6" fill="#6a6a6e"/>
  <path d="M361.3,352.6 L373.3,352.6 L373.3,355.6 L372.2,356.8 L371.1,374.6 Q370.9,377.4 367.3,377.4 Q363.7,377.4 363.5,374.6 L362.4,356.8 L361.3,355.6 Z" fill="url(#gHubG)"/>
  <rect x="361.3" y="352.4" width="12" height="2.8" rx="0.8" fill="#2fa88e"/>
  <path d="M366.1,357 L366.3,375 M368.7,357 L368.5,375" stroke="#ffffff" stroke-width="0.5" opacity="0.25" fill="none"/>
</g>
</g>
<path d="M285.4,418 L372.8,408 L372.8,418 Z" fill="url(#gWedge)"/>
<!-- SECTION: bioprinting -->
<g filter="url(#soft)">
  <!-- plate -->
  <path d="M30,329.2 L154.6,329.2 L171,358.2 L4.6,358.2 Z" fill="#a2a2a2"/>
  <rect x="4.4" y="357.8" width="166.8" height="4" fill="#0c0c0c"/>
  <!-- printed carrot -->
  <path d="M75.6,338.6 C77,333 83,330 90,330 C100,330 112,333 124,337.6 C132,340.6 140,344 143.6,346.6 C145,348.4 143.6,350.4 140,351 C128,352.4 110,353 96,352.6 C86,352.4 79.6,350 77.6,345.6 C76.4,343 76,340.6 75.6,338.6 Z" fill="url(#gPCarrot)"/>
  <path d="M112,333.4 C124,337 136,342 143.6,346.6 C145,348.4 143.6,350.4 140,351 C141.6,349.6 142,348 140.6,346.6 C133,342 122,337 112,333.4 Z" fill="#a85a48" opacity="0.75"/>
  <g stroke="#e88a72" stroke-width="0.5" fill="none" opacity="0.75">
    <path d="M84,331.4 C82.4,338 83,345 85.4,351"/><path d="M90,330.4 C88.4,338 89,346 91.4,352.2"/><path d="M96,330.6 C94.6,338 95,346 97,352.4"/><path d="M102,331.4 C100.8,338 101.2,346 103,352.4"/><path d="M108,332.6 C107,339 107.4,346 109,352.4"/><path d="M114,334.4 C113.2,340 113.6,346 115,352.2"/><path d="M120,336.4 C119.4,341 119.8,346 121,352"/><path d="M126,338.8 C125.6,342 126,347 127,351.8"/><path d="M132,341.4 C131.8,344 132,348 133,351.4"/>
  </g>
  <!-- cyan leaf blob -->
  <path d="M75.6,338.4 C72,338 69,335.6 66,333.4 C62,330.6 56,330 51,331 C46,332 42.4,335 43,338 C43.6,340.4 46,341.4 48.4,341 C47,344 48.4,347.4 51,349.6 C54.4,352 59.6,352.6 63,350.4 C66,352 70,350.6 71,347.4 C73,345 74.6,341.6 75.6,338.4 Z" fill="#62cdd2"/>
  <path d="M46,336.6 C48,333.4 56,332 61,333.6 C65,335 68,337.4 70,339.4 C64,341 56,341 51,339.8 C48.4,339.4 45.6,338.4 46,336.6 Z" fill="#8fe0e4" opacity="0.75"/>
  <g stroke="#3eb0b8" stroke-width="0.55" fill="none" opacity="0.75">
    <path d="M62,334 C64,339 64,345 62,350.4"/><path d="M65.4,335 C67.4,340 67.4,345 65.6,350.4"/><path d="M68.6,336.6 C70.4,340 70.2,345 68.6,349.4"/><path d="M71.6,338 C72.8,341 72.4,344.6 71,347.4"/>
  </g>
  <!-- nozzle -->
  <path d="M44.2,245 L75.8,245 L75.8,279 L65.6,292.6 L65.6,323.4 L55.3,323.4 L55.3,292.6 L44.2,279 Z" fill="url(#gNozzle)"/>
  <path d="M54.7,245 L68.5,245 L68.5,279 L65.0,292.6 L65.0,323.2 L58.2,323.2 L58.2,292.6 L54.7,279 Z" fill="#63d0d6"/>
  <path d="M59.2,323 L63.4,323 L63,332 L59.8,332 Z" fill="#63d0d6"/>
  <path d="M59.4,247 L62.4,247 L62.4,322 L60.6,322 Z" fill="#9be8ec" opacity="0.6"/>
  <ellipse cx="60" cy="245" rx="15.8" ry="3.1" fill="#c6c6c8" stroke="#8e8e90" stroke-width="0.6"/>
  <path d="M54.7,245.4 A15.8,3.1 0 0 1 68.5,243 L68.5,246.8 A15.8,3.1 0 0 1 54.7,247.6 Z" fill="#7adbe0"/>
</g>
</svg>
</body>
</html>
